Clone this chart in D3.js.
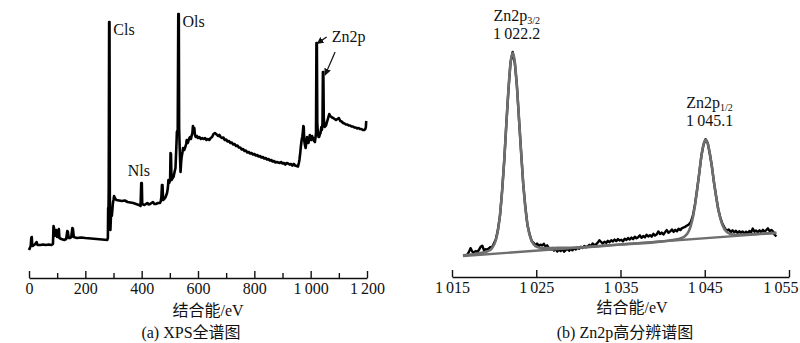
<!DOCTYPE html>
<html>
<head>
<meta charset="utf-8">
<script src="https://cdn.jsdelivr.net/npm/d3@7"></script>
<style>
  html, body { margin: 0; padding: 0; background: #fff; }
  svg { display: block; }
  text { font-family: "Liberation Serif", "Times New Roman", "Noto Sans CJK SC", serif; fill: #111; }
</style>
</head>
<body>
<svg id="chart" width="800" height="343"></svg>
<script>
// ---------- (a) survey spectrum: [binding energy eV, intensity a.u.] ----------
const surveyTicks = [0, 100, 200, 300, 400, 500, 600, 700, 800, 900, 1000, 1100, 1200];
const surveyPoints = [
  [0, 8], [3, 10], [6, 12], [8, 20], [10, 21], [11, 14], [13, 12], [18, 13], [22, 14], [27, 16],
  [30, 13], [40, 13], [50, 13.5], [60, 13], [70, 13.5], [80, 13], [85, 14], [87, 32], [89, 30],
  [91, 22], [94, 25], [97, 28], [100, 21], [104, 22], [106, 29], [108, 20], [115, 19], [125, 18],
  [132, 19], [136, 27], [138, 26], [141, 20], [146, 20], [150, 21], [154, 30], [156, 29], [159, 21],
  [170, 20], [185, 20.5], [200, 20], [220, 19.5], [240, 19], [260, 18.5], [278, 18], [280, 20],
  [281, 50], [282, 40], [283, 70], [284.5, 236], [285.8, 236], [287, 60], [288, 45], [289, 28],
  [290, 35], [292, 50], [294, 42], [296, 48], [298, 55], [300, 58], [302, 62], [305, 60], [310, 58],
  [320, 57.5], [330, 57], [340, 57.5], [350, 56], [360, 55.5], [370, 55], [380, 54], [390, 53],
  [396, 52], [398.5, 75], [400.5, 75], [402, 54], [410, 53], [415, 54], [420, 55], [425, 53.5],
  [430, 54], [435, 55], [440, 56], [445, 54], [450, 54], [458, 55], [465, 55], [468, 57], [470, 61],
  [472, 73], [474, 73], [476, 58], [480, 59], [485, 61], [490, 65], [493, 70], [495, 78], [498, 75],
  [501, 78], [502.5, 105], [504, 104], [506, 78], [510, 80], [513, 81], [516, 85], [520, 90],
  [523, 110], [525, 126], [528, 128], [530, 244], [531.8, 244], [533, 130], [535, 110], [538, 86],
  [540, 95], [542, 101], [545, 106], [547, 110], [551, 108], [555, 111], [558, 114], [560, 118],
  [563, 115], [565, 116], [568, 119], [572, 121], [575, 119], [578, 123], [580, 125], [582, 132],
  [584, 129], [587, 130], [589, 123], [592, 121], [596, 122], [600, 120], [605, 121], [610, 119],
  [615, 120], [620, 119], [625, 120], [630, 118], [635, 119], [640, 118], [645, 120], [650, 121],
  [655, 124], [660, 125], [664, 124], [668, 123], [672, 122], [676, 123], [680, 121], [685, 120],
  [690, 120.5], [695, 118], [700, 118.5], [705, 116.5], [710, 117], [715, 115], [720, 115.5],
  [725, 113.5], [730, 114], [735, 112], [740, 112.5], [745, 110.5], [750, 110.5], [755, 108.5],
  [760, 109], [765, 107], [770, 107.5], [775, 105.5], [780, 106], [785, 104.5], [790, 105],
  [795, 103.5], [800, 104], [805, 102.5], [810, 103], [815, 101.5], [820, 102], [825, 100.5],
  [830, 101], [835, 99.5], [840, 100], [845, 98.5], [850, 99], [855, 97.5], [860, 98], [865, 96.5],
  [870, 97], [875, 95.5], [880, 96], [885, 95.5], [890, 95], [895, 96], [900, 94.5], [905, 95],
  [910, 93.5], [915, 95], [920, 94.5], [925, 93.5], [930, 94], [935, 92.5], [940, 94], [945, 92.5],
  [950, 92], [955, 91.5], [958, 95], [960, 98], [963, 105], [965, 111], [968, 118], [970, 121],
  [972, 125], [974, 132], [975.5, 131], [977, 118], [979, 114], [982, 110], [984, 114], [987, 121],
  [990, 118], [992, 115], [995, 119], [997, 123], [1000, 119], [1002, 118], [1005, 122], [1008, 120],
  [1012, 117], [1015, 116], [1017, 120], [1019, 125], [1020.5, 215], [1022, 215], [1023.5, 135],
  [1025, 128], [1028, 121], [1030, 121], [1033, 124], [1035, 125], [1038, 131], [1040, 128],
  [1042, 135], [1043.5, 186], [1045, 186], [1046.5, 140], [1048, 135], [1050, 131], [1053, 132],
  [1055, 133], [1058, 136], [1060, 138], [1063, 141], [1066, 144], [1069, 142], [1072, 141.5],
  [1076, 140.5], [1080, 140], [1085, 139], [1090, 138], [1095, 139], [1100, 140], [1105, 137],
  [1110, 136.5], [1115, 135], [1120, 134.5], [1125, 133.5], [1130, 133.5], [1135, 132.5],
  [1140, 132.5], [1145, 131.5], [1150, 131.5], [1155, 130.5], [1160, 130.5], [1165, 129.5],
  [1170, 130], [1175, 129], [1180, 129], [1185, 128], [1190, 128], [1194, 129], [1196, 131],
  [1197, 136], [1198, 137]
];
// peak labels of the survey: [text, energy, intensity of the peak top]
const surveyLabels = [["Cls", 285, 236], ["Ols", 531, 244], ["Nls", 400, 75]];
const zincPeaks = [[1021.2, 215], [1044.2, 186]];

// ---------- (b) Zn2p high-resolution region ----------
const hrTicks = [1015, 1025, 1035, 1045, 1055];
const hrPoints = [
  [1016.8, 3.2], [1017.0, 4.5], [1017.2, 6.3], [1017.4, 4.8], [1017.6, 4.2], [1017.8, 5.0],
  [1018.0, 4.6], [1018.2, 5.5], [1018.4, 6.9], [1018.6, 7.4], [1018.8, 5.3], [1019.0, 5.8],
  [1019.2, 5.6], [1019.5, 6.6], [1019.8, 7.0], [1020.2, 10.2], [1020.45, 14.6], [1020.7, 21.2],
  [1020.95, 32.6], [1021.2, 46.0], [1021.45, 62.9], [1021.7, 78.2], [1021.95, 90.8], [1022.2, 95.5],
  [1022.45, 90.6], [1022.7, 80.4], [1022.95, 65.0], [1023.2, 50.3], [1023.45, 35.6], [1023.7, 25.3],
  [1023.95, 16.9], [1024.2, 12.8], [1024.45, 9.6], [1024.7, 8.6], [1024.9, 7.6], [1025.1, 8.4],
  [1025.3, 7.2], [1025.5, 7.9], [1025.7, 7.5], [1025.9, 8.3], [1026.1, 6.8], [1026.3, 7.6],
  [1026.5, 6.2], [1026.7, 5.6], [1026.9, 6.4], [1027.1, 5.2], [1027.3, 5.9], [1027.5, 4.8],
  [1027.7, 5.6], [1027.9, 5.0], [1028.1, 6.1], [1028.3, 4.7], [1028.5, 5.4], [1028.7, 5.9],
  [1028.9, 5.1], [1029.1, 6.0], [1029.3, 5.3], [1029.5, 6.3], [1029.7, 5.7], [1029.9, 6.6],
  [1030.1, 6.0], [1030.3, 6.9], [1030.5, 6.4], [1030.7, 7.3], [1030.9, 6.7], [1031.1, 7.1],
  [1031.3, 7.8], [1031.5, 7.2], [1031.7, 8.4], [1031.9, 7.6], [1032.1, 8.0], [1032.3, 8.8],
  [1032.5, 9.9], [1032.7, 9.1], [1032.9, 8.4], [1033.1, 9.2], [1033.3, 8.7], [1033.5, 9.6],
  [1033.7, 9.0], [1033.9, 9.9], [1034.1, 9.3], [1034.3, 10.2], [1034.5, 9.5], [1034.7, 10.4],
  [1034.9, 9.8], [1035.1, 10.1], [1035.3, 9.4], [1035.5, 10.6], [1035.7, 10.0], [1035.9, 10.9],
  [1036.1, 10.2], [1036.3, 11.1], [1036.5, 10.4], [1036.7, 11.5], [1036.9, 10.8], [1037.1, 11.3],
  [1037.3, 12.1], [1037.5, 11.0], [1037.7, 11.8], [1037.9, 11.2], [1038.1, 12.4], [1038.3, 11.6],
  [1038.5, 12.2], [1038.7, 11.5], [1038.9, 12.8], [1039.1, 12.0], [1039.3, 12.6], [1039.5, 13.9],
  [1039.7, 12.7], [1039.9, 13.4], [1040.1, 12.5], [1040.3, 13.6], [1040.5, 14.5], [1040.7, 13.3],
  [1040.9, 13.9], [1041.1, 14.8], [1041.3, 13.7], [1041.5, 14.6], [1041.7, 14.0], [1041.9, 15.1],
  [1042.1, 14.5], [1042.3, 15.4], [1042.6, 15.8], [1042.85, 16.5], [1043.1, 17.0], [1043.35, 18.2],
  [1043.6, 21.2], [1043.85, 26.4], [1044.1, 33.2], [1044.35, 40.4], [1044.6, 48.3], [1044.85, 53.2],
  [1045.1, 55.8], [1045.35, 54.1], [1045.6, 49.2], [1045.85, 43.4], [1046.1, 36.0], [1046.35, 29.9],
  [1046.6, 24.0], [1046.85, 20.2], [1047.1, 17.3], [1047.35, 15.6], [1047.6, 14.1], [1047.85, 14.8],
  [1048.1, 13.6], [1048.3, 14.4], [1048.5, 13.5], [1048.7, 14.2], [1048.9, 13.1], [1049.1, 14.0],
  [1049.3, 13.3], [1049.5, 13.9], [1049.7, 12.9], [1049.9, 13.8], [1050.1, 13.2], [1050.3, 14.1],
  [1050.5, 13.4], [1050.7, 15.2], [1050.9, 13.8], [1051.1, 14.3], [1051.3, 13.5], [1051.5, 14.4],
  [1051.7, 13.6], [1051.9, 14.6], [1052.1, 13.8], [1052.3, 14.5], [1052.5, 15.3], [1052.7, 14.0],
  [1052.9, 14.6], [1053.1, 13.9], [1053.3, 12.4], [1053.5, 11.6]
];
// fitted envelope (two Zn2p components on a linear background)
const hrFit = [
  [1016.3, 3.04], [1017.5, 3.55], [1018.5, 4.14], [1019.2, 4.88], [1019.7, 6.02], [1020.2, 9.88],
  [1020.45, 14.3], [1020.7, 21.54], [1020.95, 32.21], [1021.2, 46.35], [1021.45, 62.55],
  [1021.7, 78.52], [1021.95, 90.49], [1022.2, 95.06], [1022.45, 91.03], [1022.7, 80.1],
  [1022.95, 65.37], [1023.2, 49.94], [1023.45, 36.0], [1023.7, 24.98], [1023.95, 17.25],
  [1024.2, 12.43], [1024.7, 7.97], [1025.2, 6.75], [1026.0, 6.31], [1027.5, 6.4], [1030, 6.56],
  [1035, 7.97], [1040, 9.38], [1041.5, 10.25], [1042.1, 10.74], [1042.6, 11.55], [1043.1, 13.97],
  [1043.35, 16.54], [1043.6, 20.46], [1043.85, 25.98], [1044.1, 32.89], [1044.35, 40.6],
  [1044.6, 48.0], [1044.85, 53.44], [1045.1, 55.52], [1045.35, 53.94], [1045.6, 49.45],
  [1045.85, 43.17], [1046.1, 36.22], [1046.35, 29.63], [1046.6, 24.07], [1046.85, 19.8],
  [1047.1, 16.8], [1047.6, 13.68], [1048.1, 12.7], [1048.6, 12.41], [1049.6, 12.47],
  [1051.1, 12.73], [1053.5, 13.31]
];
const hrBackground = [[1016.3, 2.7], [1053.5, 13.2]];
// component labels: [name, subscript, energy text, peak energy, peak intensity]
const hrLabels = [["Zn2p", "3/2", "1022.2", 1022.2, 95.1], ["Zn2p", "1/2", "1045.1", 1045.1, 55.5]];

// ---------- drawing ----------
const svg = d3.select("#chart");
const thin = "\u2009";
const fmtEnergy = v => {
  const s = String(v);
  const [i, f] = s.split(".");
  const n = +i;
  const head = n >= 1000 ? Math.floor(n / 1000) + thin + String(n % 1000).padStart(3, "0") : String(n);
  return f ? head + "." + f : head;
};

function drawAxis(g, scale, ticks, labelEvery, y) {
  const axis = d3.axisBottom(scale)
    .tickValues(ticks)
    .tickSizeInner(-7)
    .tickSizeOuter(0)
    .tickPadding(5)
    .tickFormat(v => labelEvery(v) ? fmtEnergy(v) : "");
  const ag = g.append("g").attr("transform", `translate(0,${y})`).call(axis);
  ag.select(".domain").attr("stroke", "#111").attr("stroke-width", 1.6);
  ag.selectAll(".tick line").attr("stroke", "#111").attr("stroke-width", 1.4)
    .attr("y2", v => labelEvery(v) ? -7 : -5);
  ag.selectAll(".tick text")
    .attr("fill", "#111")
    .style("font-size", "16px")
    .style("font-family", "'Liberation Serif', serif");
  return ag;
}

// (a) survey
const xS = d3.scaleLinear([0, 1200], [29, 367]);
const yS = d3.scaleLinear([0, 250], [258, 8]);
const gA = svg.append("g");
drawAxis(gA, xS, surveyTicks, v => v % 200 === 0, 278);

gA.append("path")
  .datum(surveyPoints)
  .attr("fill", "none")
  .attr("stroke", "#000")
  .attr("stroke-width", 2.6)
  .attr("stroke-linejoin", "round")
  .attr("d", d3.line().x(d => xS(d[0])).y(d => yS(d[1])));

gA.selectAll("text.peak")
  .data(surveyLabels)
  .join("text")
  .attr("class", "peak")
  .attr("x", d => xS(d[1]) + (d[0] === "Nls" ? -14 : 4))
  .attr("y", d => yS(d[2]) + (d[0] === "Nls" ? -7 : 13))
  .style("font-size", "16px")
  .text(d => d[0]);

// Zn2p label with two arrows
svg.append("defs").append("marker")
  .attr("id", "arrowHead")
  .attr("viewBox", "0 0 10 10")
  .attr("refX", 9).attr("refY", 5)
  .attr("markerWidth", 7).attr("markerHeight", 7)
  .attr("markerUnits", "userSpaceOnUse")
  .attr("orient", "auto")
  .append("path").attr("d", "M0,0 L10,5 L0,10 z").attr("fill", "#111");

const znLabelX = xS(zincPeaks[0][0]) + 15;
gA.append("text")
  .attr("x", znLabelX)
  .attr("y", yS(zincPeaks[0][1]) - 1)
  .style("font-size", "16px")
  .text("Zn2p");
gA.append("line")
  .attr("x1", znLabelX - 5).attr("y1", yS(zincPeaks[0][1]) - 6)
  .attr("x2", xS(zincPeaks[0][0]) + 0.5).attr("y2", yS(zincPeaks[0][1]) + 0.5)
  .attr("stroke", "#111").attr("stroke-width", 1.4)
  .attr("marker-end", "url(#arrowHead)");
gA.append("line")
  .attr("x1", xS(zincPeaks[1][0]) + 12).attr("y1", yS(zincPeaks[1][1]) - 20)
  .attr("x2", xS(zincPeaks[1][0]) + 2).attr("y2", yS(zincPeaks[1][1]) + 3)
  .attr("stroke", "#111").attr("stroke-width", 1.2)
  .attr("marker-end", "url(#arrowHead)");

gA.append("text")
  .attr("x", 208).attr("y", 310).attr("text-anchor", "middle").attr("dominant-baseline", "central")
  .style("font-size", "16px").text("结合能/eV");
gA.append("text")
  .attr("x", 191).attr("y", 332).attr("text-anchor", "middle").attr("dominant-baseline", "central")
  .style("font-size", "16px").text("(a) XPS全谱图");

// (b) Zn2p region
const xH = d3.scaleLinear([1015, 1055], [452, 789]);
const yH = d3.scaleLinear([0, 100], [262, 42]);
const gB = svg.append("g");
const axB = drawAxis(gB, xH, hrTicks, () => true, 277);
// last label sits flush against the right edge of the figure
axB.selectAll(".tick text")
  .filter(v => v === hrTicks[hrTicks.length - 1])
  .attr("text-anchor", "end")
  .attr("x", 798 - xH(hrTicks[hrTicks.length - 1]));

const lineH = d3.line().x(d => xH(d[0])).y(d => yH(d[1]));
gB.append("path")
  .datum(hrPoints)
  .attr("fill", "none").attr("stroke", "#000").attr("stroke-width", 2.4)
  .attr("stroke-linejoin", "round")
  .attr("d", lineH);
gB.append("path")
  .datum(hrBackground)
  .attr("fill", "none").attr("stroke", "#6e6e6e").attr("stroke-width", 2.4)
  .attr("d", lineH);
gB.append("path")
  .datum(hrFit)
  .attr("fill", "none").attr("stroke", "#6e6e6e").attr("stroke-width", 2.6)
  .attr("stroke-linejoin", "round")
  .attr("d", d3.line().curve(d3.curveMonotoneX).x(d => xH(d[0])).y(d => yH(d[1])));

hrLabels.forEach(([name, sub, val, e, top]) => {
  const cx = xH(e) + 4;
  const y0 = yH(top);
  const t = gB.append("text")
    .attr("x", cx).attr("y", y0 - 32)
    .attr("text-anchor", "middle")
    .style("font-size", "16px");
  t.append("tspan").text(name);
  t.append("tspan").attr("dy", 3).style("font-size", "10px").text(sub);
  gB.append("text")
    .attr("x", cx).attr("y", y0 - 14)
    .attr("text-anchor", "middle")
    .style("font-size", "16px")
    .text(fmtEnergy(val));
});

gB.append("text")
  .attr("x", 632).attr("y", 307).attr("text-anchor", "middle").attr("dominant-baseline", "central")
  .style("font-size", "16px").text("结合能/eV");
gB.append("text")
  .attr("x", 625).attr("y", 332).attr("text-anchor", "middle").attr("dominant-baseline", "central")
  .style("font-size", "16px").text("(b) Zn2p高分辨谱图");
</script>
</body>
</html>
